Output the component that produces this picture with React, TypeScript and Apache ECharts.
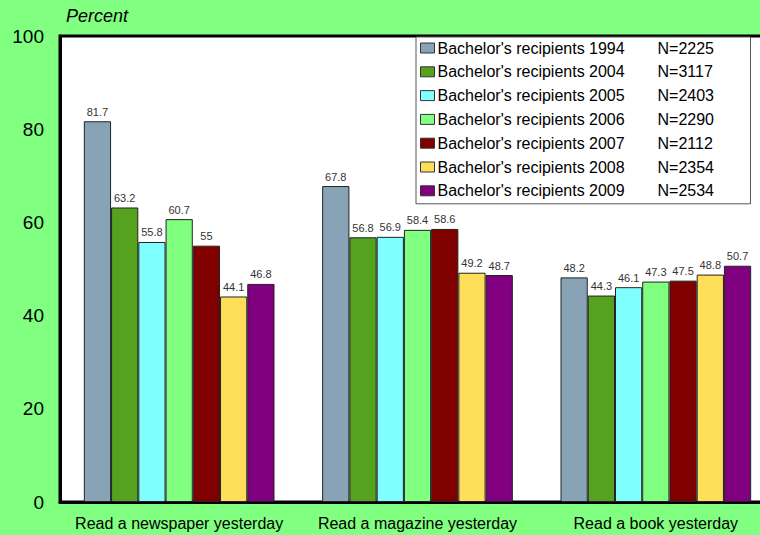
import React, { useEffect, useRef } from "react";
import * as echarts from "echarts";

const categories = ["Read a newspaper yesterday", "Read a magazine yesterday", "Read a book yesterday"];
const seriesNames = [
  "Bachelor's recipients 1994",
  "Bachelor's recipients 2004",
  "Bachelor's recipients 2005",
  "Bachelor's recipients 2006",
  "Bachelor's recipients 2007",
  "Bachelor's recipients 2008",
  "Bachelor's recipients 2009",
];
const sampleSizes = ["N=2225", "N=3117", "N=2403", "N=2290", "N=2112", "N=2354", "N=2534"];
const values1994 = [81.7, 67.8, 48.2];
const values2004 = [63.2, 56.8, 44.3];
const values2005 = [55.8, 56.9, 46.1];
const values2006 = [60.7, 58.4, 47.3];
const values2007 = [55, 58.6, 47.5];
const values2008 = [44.1, 49.2, 48.8];
const values2009 = [46.8, 48.7, 50.7];
const allValues = [values1994, values2004, values2005, values2006, values2007, values2008, values2009];
const colors = ["#87A3B5", "#55A21F", "#80FFFF", "#80FF80", "#800000", "#FFDF5A", "#800080"];
const yTicks = { min: 0, max: 100, interval: 20 };

const FONT = "'Liberation Sans', Arial, sans-serif";

export default function App() {
  const ref = useRef<HTMLDivElement>(null);
  useEffect(() => {
    if (!ref.current) return;
    const chart = echarts.init(ref.current, undefined, { renderer: "svg" });
    const nMap: Record<string, string> = {};
    seriesNames.forEach((n, i) => (nMap[n] = sampleSizes[i]));
    chart.setOption({
      animation: false,
      backgroundColor: "#80FF80",
      textStyle: { fontFamily: FONT },
      grid: {
        left: 60,
        top: 36,
        right: 0,
        bottom: 33,
        show: true,
        backgroundColor: "#FFFFFF",
        borderColor: "#000000",
        borderWidth: 3,
      },
      graphic: [
        {
          type: "text",
          left: 66,
          top: 7,
          style: { text: "Percent", font: `italic 18px ${FONT}`, fill: "#000" },
        },
      ],
      legend: {
        orient: "vertical",
        left: 416,
        top: 37,
        backgroundColor: "#FFFFFF",
        borderColor: "#555555",
        borderWidth: 1,
        borderRadius: 0,
        padding: [3, 10, 5, 4],
        itemGap: 7.8,
        itemWidth: 14,
        itemHeight: 10,
        icon: "rect",
        selectedMode: false,
        itemStyle: { borderColor: "#333", borderWidth: 1 },
        formatter: (name: string) => `{a|${name}}{b|${nMap[name]}}`,
        textStyle: {
          fontFamily: FONT,
          fontSize: 16,
          color: "#000",
          lineHeight: 16,
          rich: {
            a: { fontFamily: FONT, fontSize: 16, color: "#000", width: 220, padding: [0, 0, 0, -2] },
            b: { fontFamily: FONT, fontSize: 16, color: "#000", width: 83 },
          },
        },
        data: seriesNames,
      },
      xAxis: {
        type: "category",
        data: categories,
        axisLine: { show: true, lineStyle: { color: "#000", width: 3 } },
        axisTick: { show: false },
        axisLabel: { fontSize: 16, color: "#000", margin: 13, interval: 0, fontFamily: FONT },
      },
      yAxis: {
        type: "value",
        min: yTicks.min,
        max: yTicks.max,
        interval: yTicks.interval,
        splitLine: { show: false },
        axisLine: { show: true, lineStyle: { color: "#000", width: 3 } },
        axisTick: { show: false },
        axisLabel: { fontSize: 19, color: "#000", margin: 16, fontFamily: FONT },
      },
      series: seriesNames.map((name, i) => ({
        name,
        type: "bar",
        data: allValues[i],
        barGap: "0%",
        barCategoryGap: "20%",
        itemStyle: { color: colors[i], borderColor: "#222", borderWidth: 1 },
        label: {
          show: true,
          position: "top",
          distance: 4,
          fontSize: 11,
          color: "#333",
          fontFamily: FONT,
        },
      })),
    });
    return () => chart.dispose();
  }, []);
  return <div ref={ref} style={{ position: "fixed", left: 0, top: 0, width: 775, height: 535 }} />;
}
